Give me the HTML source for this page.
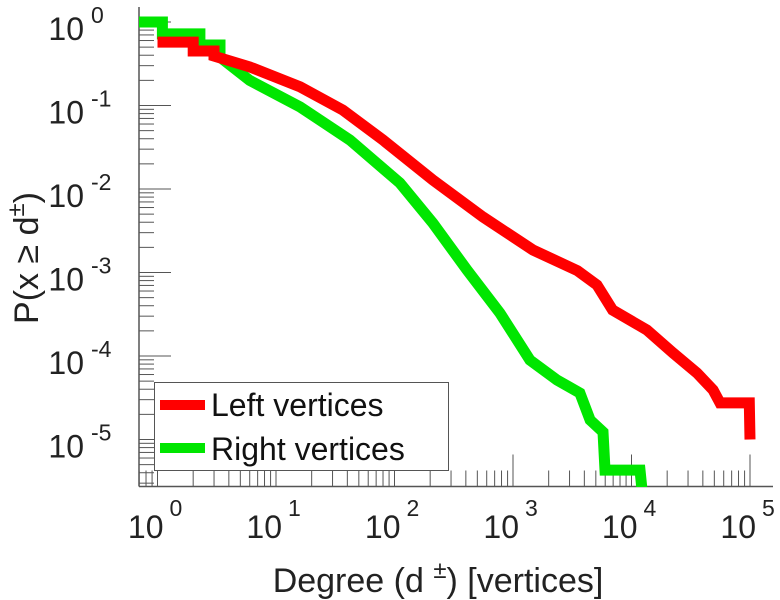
<!DOCTYPE html>
<html><head><meta charset="utf-8"><style>
html,body{margin:0;padding:0;background:#fff;}
svg{display:block;font-family:"Liberation Sans",sans-serif;}
</style></head><body>
<svg id="chart" width="780" height="600" viewBox="0 0 780 600">
<defs><clipPath id="plotclip"><rect x="139" y="7" width="634" height="480"/></clipPath></defs>
<g id="ticks"></g>
<g id="series" clip-path="url(#plotclip)"></g>
<g id="labels"></g>
<text transform="translate(38,258) rotate(-90)" text-anchor="middle" font-size="34" fill="#222">P(x ≥ d<tspan dy="-14" font-size="24">±</tspan><tspan dy="14">)</tspan></text>
<text x="438" y="592" text-anchor="middle" font-size="34" fill="#222">Degree (d <tspan dy="-14" font-size="24">  ±</tspan><tspan dy="14">) [vertices]</tspan></text>
<g>
<rect x="154.5" y="382.5" width="294" height="88" fill="#fff" stroke="#555" stroke-width="1"/>
<line x1="160" y1="405" x2="205" y2="405" stroke="#ff0000" stroke-width="10"/>
<text x="211" y="416" font-size="32" fill="#111">Left vertices</text>
<line x1="160" y1="448" x2="205" y2="448" stroke="#00e600" stroke-width="10"/>
<text x="211" y="460" font-size="32" fill="#111">Right vertices</text>
</g>
</svg>
<script>
const leftX = [1, 2, 2, 3, 3, 6, 16, 36.7, 80, 211, 558, 1475, 3500, 5115, 6930, 13500, 22400, 35700, 48800, 55800, 98600, 100000];
const leftY = [0.575, 0.575, 0.45, 0.45, 0.39, 0.29, 0.167, 0.088, 0.0386, 0.0128, 0.00462, 0.00186, 0.00105, 7.08e-4, 3.56e-4, 2.05e-4, 1.09e-4, 6.25e-5, 3.92e-5, 2.74e-5, 2.74e-5, 1.0e-5];
const rightX = [0.68, 1.1, 1.1, 2.28, 2.28, 3.37, 3.37, 6.0, 16, 42, 111, 211, 409, 776, 1390, 2350, 3670, 4470, 5750, 5970, 11800, 12270];
const rightY = [1, 1, 0.72, 0.72, 0.53, 0.53, 0.38, 0.20, 0.096, 0.0386, 0.0118, 0.0039, 0.00107, 3.27e-4, 8.95e-5, 5.16e-5, 3.6e-5, 1.71e-5, 1.23e-5, 4.3e-6, 4.3e-6, 2.5e-6];
const xDecades = [0, 1, 2, 3, 4, 5];
const yDecades = [0, -1, -2, -3, -4, -5];
const xTickLabels = ["0", "1", "2", "3", "4", "5"];
const yTickLabels = ["0", "-1", "-2", "-3", "-4", "-5"];

const NS = "http://www.w3.org/2000/svg";
const X0 = 157.5, XD = 118.5, Y0 = 22, YD = 83.5;
const AXL = 139, AXR = 773, AXT = 7, AXB = 486.5;
function sx(v){ return X0 + XD * Math.log10(v); }
function sy(v){ return Y0 - YD * Math.log10(v); }
function mk(tag, attrs, parent){ const e = document.createElementNS(NS, tag); for (const k in attrs) e.setAttribute(k, attrs[k]); parent.appendChild(e); return e; }

const ticks = document.getElementById('ticks');
let ax = mk('line', {x1: AXL, y1: AXB, x2: AXR, y2: AXB, stroke: '#555', 'stroke-width': 1.5}, ticks);


let ay = mk('line', {x1: AXL, y1: AXT, x2: AXL, y2: AXB, stroke: '#555', 'stroke-width': 1.5}, ticks);



for (let d = -1; d <= 5; d++) {
  for (let m = 1; m <= 9; m++) {
    const x = sx(m * Math.pow(10, d));
    if (x < AXL || x > AXR) continue;
    const len = m === 1 ? 32 : 16;
    const t = mk('line', {x1: x, y1: AXB, x2: x, y2: AXB - len, stroke: '#555', 'stroke-width': 1}, ticks);
    
    
  }
}
for (let d = -6; d <= 0; d++) {
  for (let m = 1; m <= 9; m++) {
    const y = sy(m * Math.pow(10, d));
    if (y < AXT || y > AXB) continue;
    const len = m === 1 ? 32 : 15;
    const t = mk('line', {x1: AXL, y1: y, x2: AXL + len, y2: y, stroke: '#555', 'stroke-width': 1}, ticks);
    
    
  }
}

const labels = document.getElementById('labels');
xDecades.forEach((d, i) => {
  const x = sx(Math.pow(10, d));
  const g = mk('text', {x: x + 6, y: 538, 'text-anchor': 'end', 'font-size': 32, fill: '#222'}, labels);
  g.textContent = '10';
  
  
  const s = mk('text', {x: x + 12, y: 516, 'font-size': 23, fill: '#222'}, labels);
  s.textContent = xTickLabels[i];
  
  
});
yDecades.forEach((d, i) => {
  const y = sy(Math.pow(10, d));
  const g = mk('text', {x: 84, y: y + 18, 'text-anchor': 'end', 'font-size': 32, fill: '#222'}, labels);
  g.textContent = '10';
  
  
  const s = mk('text', {x: 91, y: y + 1, 'font-size': 23, fill: '#222'}, labels);
  s.textContent = yTickLabels[i];
  
  
});

const series = document.getElementById('series');
function drawSeries(xs, ys, color, name){
  const pts = xs.map((v, i) => sx(v).toFixed(1) + ',' + sy(ys[i]).toFixed(1)).join(' ');
  const p = mk('polyline', {points: pts, fill: 'none', stroke: color, 'stroke-width': 11, 'stroke-linejoin': 'miter', 'stroke-linecap': 'butt'}, series);
  
  
}
drawSeries(rightX, rightY, '#00e600', 'right-vertices-line');
drawSeries(leftX, leftY, '#ff0000', 'left-vertices-line');
</script>
</body></html>
